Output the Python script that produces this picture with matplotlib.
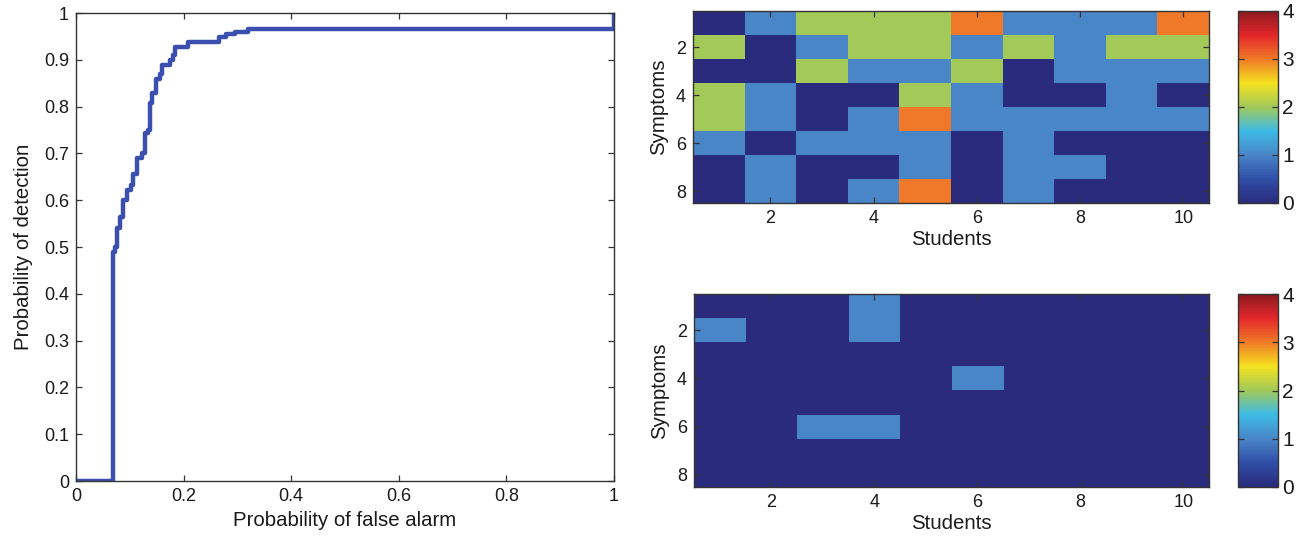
import numpy as np
import matplotlib
matplotlib.use("Agg")
import matplotlib.pyplot as plt
from matplotlib.colors import LinearSegmentedColormap

plt.rcParams["font.family"] = ["Liberation Sans", "DejaVu Sans"]

# ROC curve corners (false alarm rate, detection rate)
p_false_alarm = [0.0, 0.069, 0.072, 0.077, 0.082, 0.088, 0.094, 0.103, 0.106,
                 0.113, 0.122, 0.128, 0.133, 0.137, 0.142, 0.149, 0.156,
                 0.159, 0.175, 0.180, 0.184, 0.209, 0.265, 0.278, 0.295,
                 0.320, 1.0]
p_detection = [0.0, 0.490, 0.500, 0.540, 0.565, 0.600, 0.622, 0.632, 0.657,
               0.690, 0.700, 0.743, 0.750, 0.807, 0.828, 0.860, 0.870,
               0.889, 0.900, 0.910, 0.928, 0.939, 0.949, 0.955, 0.960,
               0.965, 1.0]

# symptom severity per student (rows: symptoms 1-8, cols: students 1-10)
symptoms_before = [
    [0, 1, 2, 2, 2, 3, 1, 1, 1, 3],
    [2, 0, 1, 2, 2, 1, 2, 1, 2, 2],
    [0, 0, 2, 1, 1, 2, 0, 1, 1, 1],
    [2, 1, 0, 0, 2, 1, 0, 0, 1, 0],
    [2, 1, 0, 1, 3, 1, 1, 1, 1, 1],
    [1, 0, 1, 1, 1, 0, 1, 0, 0, 0],
    [0, 1, 0, 0, 1, 0, 1, 1, 0, 0],
    [0, 1, 0, 1, 3, 0, 1, 0, 0, 0],
]
symptoms_after = [
    [0, 0, 0, 1, 0, 0, 0, 0, 0, 0],
    [1, 0, 0, 1, 0, 0, 0, 0, 0, 0],
    [0, 0, 0, 0, 0, 0, 0, 0, 0, 0],
    [0, 0, 0, 0, 0, 1, 0, 0, 0, 0],
    [0, 0, 0, 0, 0, 0, 0, 0, 0, 0],
    [0, 0, 1, 1, 0, 0, 0, 0, 0, 0],
    [0, 0, 0, 0, 0, 0, 0, 0, 0, 0],
    [0, 0, 0, 0, 0, 0, 0, 0, 0, 0],
]

# jet-like map with print-toned colours
jet_print = LinearSegmentedColormap.from_list("jet_print", [
    (0.000, "#2a2b7d"),
    (0.125, "#2f4ea6"),
    (0.250, "#4a86c8"),
    (0.375, "#3dbbe6"),
    (0.500, "#a2c95a"),
    (0.625, "#f4e21f"),
    (0.750, "#f07b28"),
    (0.875, "#e3262a"),
    (1.000, "#8c1b1f"),
])

W, H = 1296, 539
fig = plt.figure(figsize=(W / 100, H / 100), dpi=100)


def frac(left, top, right, bottom):
    return [left / W, 1 - bottom / H, (right - left) / W, (bottom - top) / H]


def style_axes(ax):
    for s in ax.spines.values():
        s.set_color("#333333")
        s.set_linewidth(1.0)
    ax.tick_params(direction="in", top=True, right=True, length=4,
                   width=0.9, color="#333333", labelsize=13, pad=5,
                   labelcolor="#1a1a1a")


# ROC curve
ax = fig.add_axes(frac(76, 13, 614, 481))
ax.step(p_false_alarm, p_detection, where="post", color="#3a4fae", lw=3.2)
ax.set_xlim(0, 1)
ax.set_ylim(0, 1)
ax.set_xticks(np.arange(0, 1.01, 0.2))
ax.set_xticklabels(["0", "0.2", "0.4", "0.6", "0.8", "1"])
ax.set_yticks(np.arange(0, 1.01, 0.1))
ax.set_yticklabels(["0"] + [f"{v:.1f}" for v in np.arange(0.1, 0.95, 0.1)] + ["1"])
style_axes(ax)
ax.set_xlabel("Probability of false alarm", fontsize=14.7, labelpad=4,
              color="#1a1a1a")
ax.set_ylabel("Probability of detection", fontsize=14.7, labelpad=8,
              color="#1a1a1a")

# symptom maps with colorbars
panels = [
    (symptoms_before, (693, 11, 1209, 203)),
    (symptoms_after, (694, 294, 1209, 487)),
]
for data, (l, t, r, b) in panels:
    hax = fig.add_axes(frac(l, t, r, b))
    img = hax.imshow(np.array(data), cmap=jet_print, vmin=0, vmax=4,
                     aspect="auto", interpolation="nearest",
                     extent=(0.5, 10.5, 8.5, 0.5))
    hax.set_xticks([2, 4, 6, 8, 10])
    hax.set_yticks([2, 4, 6, 8])
    style_axes(hax)
    hax.set_xlabel("Students", fontsize=14.7, labelpad=2, color="#1a1a1a")
    hax.set_ylabel("Symptoms", fontsize=14.7, labelpad=6, color="#1a1a1a")

    cax = fig.add_axes(frac(1238, t, 1278, b))
    cb = fig.colorbar(img, cax=cax, ticks=[0, 1, 2, 3, 4])
    cb.outline.set_edgecolor("#333333")
    cb.outline.set_linewidth(1.0)
    cax.tick_params(direction="in", left=True, right=True, length=4,
                    width=0.9, color="#333333", labelsize=15, pad=3,
                    labelcolor="#1a1a1a")

fig.savefig("out.png", dpi=100)
